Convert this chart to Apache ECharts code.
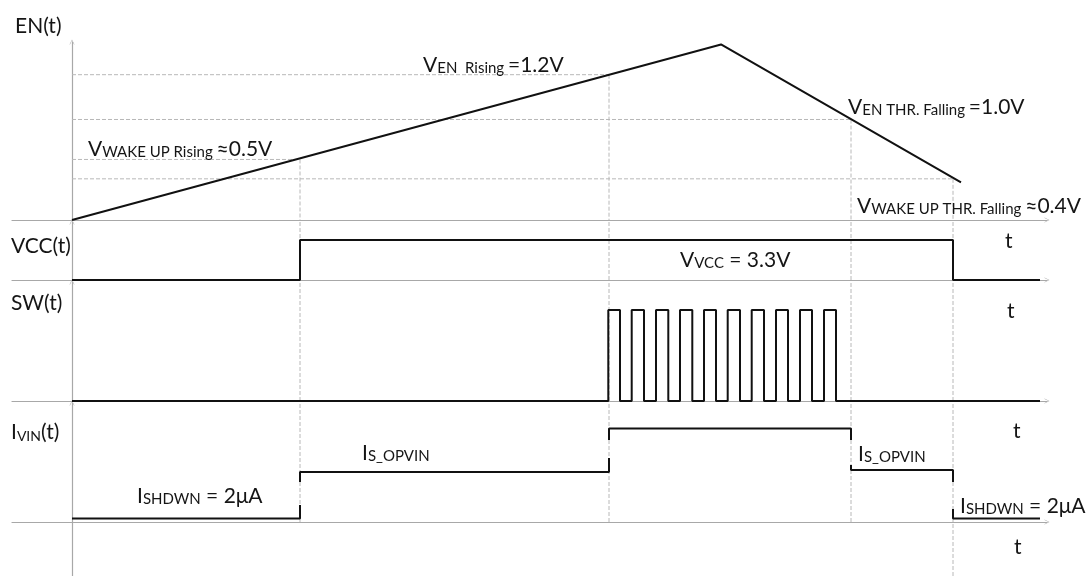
<!DOCTYPE html>
<html><head><meta charset="utf-8">
<script src="https://cdn.jsdelivr.net/npm/echarts@6/dist/echarts.min.js"></script>
<style>html,body{margin:0;padding:0;background:#fff}#c{width:1086px;height:576px}</style>
</head><body><div id="c"></div>
<script>
// ---- data (time in arbitrary units, levels in diagram units) ----
const enTimes = [0, 649, 889];
const enValues = [0, 1.45, 0.31];
const eventTimes = [228, 537, 779, 881];          // wake-up rise, EN rise, EN fall, wake-up fall
const eventLevels = [0.5, 1.2, 0.83, 0.34];       // EN level drawn at each event
const vccTimes = [0, 228, 881, 968];
const vccLevels = [0, 3.3, 0];
const swRise = [536.3, 559.7, 584, 608, 632, 655.7, 679.7, 704, 728, 752];
const swFall = [548, 572, 596.3, 620.3, 644, 668, 692, 716, 740, 764];
const swHigh = 1;
const swEnd = 968;
const ivinTimes = [0, 228, 537, 779, 881, 968];
const ivinLevels = [0.035, 0.50, 0.935, 0.52, 0.035];
const ivinEdgeStubs = [[0.17, 0.40], [0.64, 0.82], [0.57, 0.82], [0.13, 0.40]];

// ---- axis ranges ----
const X_MIN = -60, X_MAX = 975;
const EN_MAX = 1.47, VCC_MAX = 4.785, SW_MAX = 1.308, IV_MIN = -0.54, IV_MAX = 1.19;

const BLACK = '#111';
const AXIS = '#a8a8a8';
const DASH = '#b8b8b8';
const FONT = 'Lato';
const arrow = 'path://M0,10 L5,0 L10,10 L9,10 L5,2 L1,10 Z';

const grids = [
  {left: 12, right: 39, top: 42, height: 178},
  {left: 12, right: 39, top: 222, height: 58},
  {left: 12, right: 39, top: 282, height: 119},
  {left: 12, right: 39, top: 403, height: 173}
];
const yRanges = [[0, EN_MAX], [0, VCC_MAX], [0, SW_MAX], [IV_MIN, IV_MAX]];

const xAxes = grids.map((g, i) => ({
  type: 'value', gridIndex: i, min: X_MIN, max: X_MAX,
  axisLine: {show: true, onZero: true, symbol: ['none', arrow], symbolSize: [7, 5], lineStyle: {color: AXIS, width: 1.2}},
  axisTick: {show: false}, axisLabel: {show: false}, splitLine: {show: false}
}));
const yAxes = grids.map((g, i) => ({
  type: 'value', gridIndex: i, min: yRanges[i][0], max: yRanges[i][1],
  axisLine: {show: true, onZero: true, symbol: ['none', arrow], symbolSize: [7, 5], lineStyle: {color: AXIS, width: 1.2}},
  axisTick: {show: false}, axisLabel: {show: false}, splitLine: {show: false}
}));

function solid(idx, data) {
  return {type: 'line', xAxisIndex: idx, yAxisIndex: idx, data, symbol: 'none', silent: true,
    lineStyle: {color: BLACK, width: 2}, z: 5, animation: false};
}
function dashed(idx, data) {
  return {type: 'line', xAxisIndex: idx, yAxisIndex: idx, data, symbol: 'none', silent: true,
    lineStyle: {color: DASH, width: 1, type: [4, 2]}, z: 1, animation: false};
}

const series = [];
// guides
eventTimes.forEach((t, i) => {
  const L = eventLevels[i];
  series.push(dashed(0, [[0, L], [t, L]]));
  series.push(dashed(0, [[t, L], [t, 0]]));
  series.push(dashed(1, [[t, 0], [t, VCC_MAX]]));
  series.push(dashed(2, [[t, 0], [t, SW_MAX]]));
  series.push(dashed(3, [[t, i === eventTimes.length - 1 ? IV_MIN : 0], [t, IV_MAX]]));
});
// EN
series.push(solid(0, enTimes.map((t, i) => [t, enValues[i]])));
// VCC
const vcc = [];
vccLevels.forEach((v, i) => { vcc.push([vccTimes[i], v]); vcc.push([vccTimes[i + 1], v]); });
series.push(solid(1, vcc));
// SW
const sw = [[0, 0]];
swRise.forEach((r, k) => { sw.push([r, 0], [r, swHigh], [swFall[k], swHigh], [swFall[k], 0]); });
sw.push([swEnd, 0]);
series.push(solid(2, sw));
// IVIN segments with partial edges
function nearest(pair, v) { return Math.abs(pair[0] - v) < Math.abs(pair[1] - v) ? pair[0] : pair[1]; }
ivinLevels.forEach((L, i) => {
  const pts = [];
  if (i > 0) pts.push([ivinTimes[i], nearest(ivinEdgeStubs[i - 1], L)]);
  pts.push([ivinTimes[i], L], [ivinTimes[i + 1], L]);
  if (i < ivinLevels.length - 1) pts.push([ivinTimes[i + 1], nearest(ivinEdgeStubs[i], L)]);
  series.push(solid(3, pts));
});

// ---- text labels ----
const sizes = [14, 15, 21];
const rich = {};
sizes.forEach(s => { rich['s' + s] = {fontSize: s, fontFamily: FONT, lineHeight: 10 + 0.66 * s, verticalAlign: 'bottom', fill: '#151515'}; });
function label(x, baseline, parts) {
  return {type: 'text', silent: true, z: 10,
    style: {x: x, y: baseline + 5, text: parts.map(p => '{s' + p[1] + '|' + p[0] + '}').join(''),
      rich: rich, verticalAlign: 'bottom', align: 'left', fill: '#151515', fontFamily: FONT, fontSize: 21}};
}
const graphic = [
  label(15, 32, [['EN(t)', 21]]),
  label(11, 252, [['VCC(t)', 21]]),
  label(11, 309, [['SW(t)', 21]]),
  label(11, 438, [['I', 21], ['VIN', 14], ['(t)', 21]]),
  label(1005, 247, [['t', 21]]),
  label(1007, 317, [['t', 21]]),
  label(1013, 437, [['t', 21]]),
  label(1014, 553, [['t', 21]]),
  label(88, 155, [['V', 21], ['WAKE UP Rising ', 15], ['≈0.5V', 21]]),
  label(423, 71, [['V', 21], ['EN  Rising ', 15], ['=1.2V', 21]]),
  label(848, 113, [['V', 21], ['EN THR. Falling ', 15], ['=1.0V', 21]]),
  label(857, 212, [['V', 21], ['WAKE UP THR. Falling ', 15], ['≈0.4V', 21]]),
  label(680, 266, [['V', 21], ['VCC', 15], [' = 3.3V', 21]]),
  label(362, 459, [['I', 21], ['S_OPVIN', 15]]),
  label(858, 460, [['I', 21], ['S_OPVIN', 15]]),
  label(137, 502, [['I', 21], ['SHDWN', 15], [' = 2μA', 21]]),
  label(960, 512, [['I', 21], ['SHDWN', 15], [' = 2μA', 21]])
];

const chart = echarts.init(document.getElementById('c'), null, {renderer: 'canvas'});
chart.setOption({
  animation: false,
  backgroundColor: '#fff',
  grid: grids,
  xAxis: xAxes,
  yAxis: yAxes,
  series: series,
  graphic: graphic
});
</script>
</body></html>
